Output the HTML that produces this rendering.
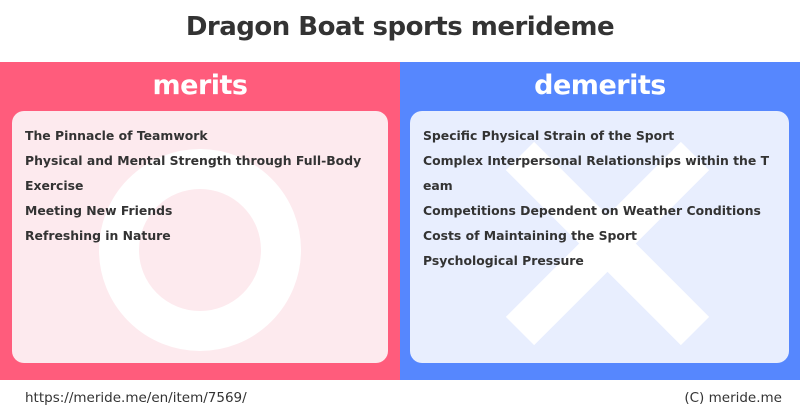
<!DOCTYPE html>
<html><head><meta charset="utf-8"><style>
body{margin:0;width:800px;height:418px;background:#fff;position:relative;overflow:hidden;font-family:"DejaVu Sans",Verdana,sans-serif;}
.t{position:absolute;left:0;width:800px;top:12px;text-align:center;font:bold 26px "DejaVu Sans",sans-serif;color:#333;letter-spacing:-0.5px}
.p{position:absolute;top:62px;height:318px;width:400px}
.h{position:absolute;top:8px;width:400px;text-align:center;color:#fff;font:bold 27px "DejaVu Sans",sans-serif;letter-spacing:-0.5px}
.b{position:absolute;top:49px;height:252px;border-radius:12px;overflow:hidden}
.l{position:absolute;left:13px;top:12px;font:bold 12.4px "DejaVu Sans",sans-serif;color:#333;line-height:25px;white-space:pre}
.f{position:absolute;top:390px;font:13.5px "DejaVu Sans",sans-serif;color:#333}
</style></head><body>
<div class="t">Dragon Boat sports merideme</div>
<div class="p" style="left:0;background:#ff5c7c">
<div class="h">merits</div>
<div class="b" style="left:12px;width:376px;background:#fdeaee">
<svg width="376" height="252" style="position:absolute;left:0;top:0"><circle cx="188" cy="139" r="81" fill="none" stroke="#fff" stroke-width="40"/></svg>
<div class="l">The Pinnacle of Teamwork
Physical and Mental Strength through Full-Body
Exercise
Meeting New Friends
Refreshing in Nature</div></div></div>
<div class="p" style="left:400px;background:#5687fe">
<div class="h">demerits</div>
<div class="b" style="left:10px;width:379px;background:#e8eefe">
<svg width="379" height="252" style="position:absolute;left:0;top:0"><g stroke="#fff" stroke-width="40"><line x1="110" y1="45" x2="285" y2="220"/><line x1="285" y1="45" x2="110" y2="220"/></g></svg>
<div class="l">Specific Physical Strain of the Sport
Complex Interpersonal Relationships within the T
eam
Competitions Dependent on Weather Conditions
Costs of Maintaining the Sport
Psychological Pressure</div></div></div>
<div class="f" style="left:25px">https://meride.me/en/item/7569/</div>
<div class="f" style="right:18px">(C) meride.me</div>
</body></html>
